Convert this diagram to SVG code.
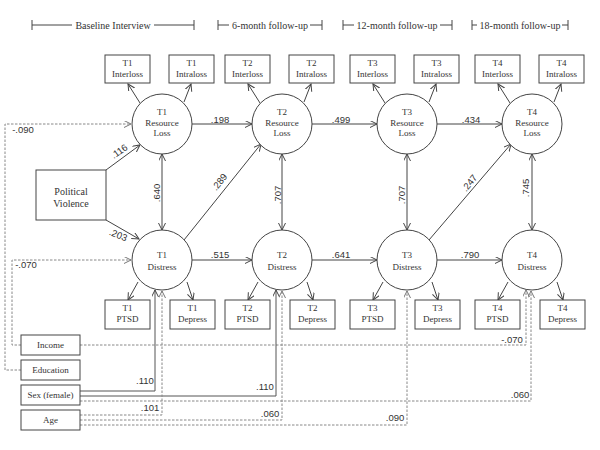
<svg xmlns="http://www.w3.org/2000/svg" width="600" height="450" viewBox="0 0 600 450">
<style>
text{font-family:"Liberation Serif","Times New Roman","DejaVu Serif",serif;fill:#333;text-anchor:middle}
.n{font-size:9px}
.h{font-size:10px}
.c{font-family:"Liberation Sans",Arial,sans-serif;font-size:9.5px}
.b{fill:#fff;stroke:#444;stroke-width:1}
.e{fill:#fff;stroke:#444;stroke-width:1}
.s{fill:none;stroke:#444;stroke-width:1}
.a{fill:none;stroke:#444;stroke-width:1;marker-end:url(#ar)}
.ab{fill:none;stroke:#444;stroke-width:1;marker-end:url(#ar);marker-start:url(#ar)}
.d{fill:none;stroke:#888;stroke-width:1;stroke-dasharray:2.5,1.5;marker-end:url(#ag)}
.ds{fill:none;stroke:#555;stroke-width:1;marker-end:url(#ar)}
</style>
<defs>
<marker id="ar" markerWidth="8" markerHeight="8" refX="7" refY="3.5" orient="auto-start-reverse" markerUnits="userSpaceOnUse"><path d="M0,0 L7,3.5 L0,7" fill="none" stroke="#444" stroke-width="1"/></marker>
<marker id="ag" markerWidth="8" markerHeight="8" refX="7" refY="3.5" orient="auto" markerUnits="userSpaceOnUse"><path d="M0,0 L7,3.5 L0,7" fill="none" stroke="#777" stroke-width="1"/></marker>
</defs>
<rect width="600" height="450" fill="#fff"/>

<g id="header">
<path class="s" d="M32,20V30M32,25H72M154,25H194M194,20V30"/>
<text class="h" x="113" y="28.5">Baseline Interview</text>
<path class="s" d="M218,20V30M218,25H229M310,25H322M322,20V30"/>
<text class="h" x="270" y="28.5">6-month follow-up</text>
<path class="s" d="M343,20V30M343,25H354M440,25H452M452,20V30"/>
<text class="h" x="397" y="28.5">12-month follow-up</text>
<path class="s" d="M472,20V30M472,25H477M562,25H568M568,20V30"/>
<text class="h" x="520" y="28.5">18-month follow-up</text>
</g>

<g id="connectors">
<path class="a" d="M106,170L140,145"/>
<path class="a" d="M106,220L139,239"/>
<path class="a" d="M192,124H252"/>
<path class="a" d="M312,124H377"/>
<path class="a" d="M437,124H502"/>
<path class="a" d="M192,260H252"/>
<path class="a" d="M312,260H377"/>
<path class="a" d="M437,260H502"/>
<path class="ab" d="M162,154V230"/>
<path class="ab" d="M282,154V230"/>
<path class="ab" d="M407,154V230"/>
<path class="ab" d="M532,154V230"/>
<path class="a" d="M184,240L261,144"/>
<path class="a" d="M429,240L511,144"/>
<path class="a" d="M140,103L128,84"/><path class="a" d="M184,102L191,84"/>
<path class="a" d="M260,103L248,84"/><path class="a" d="M304,102L311,84"/>
<path class="a" d="M385,103L373,84"/><path class="a" d="M429,102L436,84"/>
<path class="a" d="M510,103L498,84"/><path class="a" d="M554,102L561,84"/>
<path class="a" d="M138,282L128,300"/><path class="a" d="M187,282L193,300"/>
<path class="a" d="M258,282L248,300"/><path class="a" d="M307,282L313,300"/>
<path class="a" d="M383,282L373,300"/><path class="a" d="M432,282L438,300"/>
<path class="a" d="M508,282L498,300"/><path class="a" d="M557,282L563,300"/>
<path class="d" d="M21,370H5V124H131"/>
<path class="d" d="M21,345H12V260H131"/>
<path class="d" d="M80,345H526V290"/>
<path class="ds" d="M80,391H155V290"/>
<path class="ds" d="M80,396H276V290"/>
<path class="d" d="M80,401H531V291"/>
<path class="d" d="M80,415H162V291"/>
<path class="d" d="M80,420H282V291"/>
<path class="d" d="M80,425H407V291"/>
<text class="c" x="220" y="123">.198</text>
<text class="c" x="341" y="123">.499</text>
<text class="c" x="471" y="123">.434</text>
<text class="c" x="220" y="258">.515</text>
<text class="c" x="341" y="258">.641</text>
<text class="c" x="470" y="258">.790</text>
<text class="c" transform="translate(160,193) rotate(-90)">.640</text>
<text class="c" transform="translate(281,195) rotate(-90)">.707</text>
<text class="c" transform="translate(405,195) rotate(-90)">.707</text>
<text class="c" transform="translate(529,188) rotate(-90)">.745</text>
<text class="c" transform="translate(222,184) rotate(-52)">.289</text>
<text class="c" transform="translate(472,185) rotate(-52)">.247</text>
<text class="c" transform="translate(121,154) rotate(-35)">.116</text>
<text class="c" transform="translate(117,238) rotate(22)">.203</text>
<text class="c" x="23" y="133">-.090</text>
<text class="c" x="26" y="268">-.070</text>
<text class="c" x="512" y="343">-.070</text>
<text class="c" x="145" y="384">.110</text>
<text class="c" x="265" y="390">.110</text>
<text class="c" x="150" y="411">.101</text>
<text class="c" x="270" y="417">.060</text>
<text class="c" x="520" y="398">.060</text>
<text class="c" x="395" y="421">.090</text>
</g>

<g id="pv"><rect class="b" x="36" y="170" width="70" height="50"/><text class="h" x="71" y="195">Political</text><text class="h" x="71" y="207">Violence</text></g>

<g id="rl1"><circle class="e" cx="162" cy="124" r="30"/><text class="n" x="162" y="115">T1</text><text class="n" x="162" y="126">Resource</text><text class="n" x="162" y="136">Loss</text></g>
<g id="rl2"><circle class="e" cx="282" cy="124" r="30"/><text class="n" x="282" y="115">T2</text><text class="n" x="282" y="126">Resource</text><text class="n" x="282" y="136">Loss</text></g>
<g id="rl3"><circle class="e" cx="407" cy="124" r="30"/><text class="n" x="407" y="115">T3</text><text class="n" x="407" y="126">Resource</text><text class="n" x="407" y="136">Loss</text></g>
<g id="rl4"><circle class="e" cx="532" cy="124" r="30"/><text class="n" x="532" y="115">T4</text><text class="n" x="532" y="126">Resource</text><text class="n" x="532" y="136">Loss</text></g>

<g id="ds1"><circle class="e" cx="162" cy="260" r="30"/><text class="n" x="162" y="258">T1</text><text class="n" x="162" y="270">Distress</text></g>
<g id="ds2"><circle class="e" cx="282" cy="260" r="30"/><text class="n" x="282" y="258">T2</text><text class="n" x="282" y="270">Distress</text></g>
<g id="ds3"><circle class="e" cx="407" cy="260" r="30"/><text class="n" x="407" y="258">T3</text><text class="n" x="407" y="270">Distress</text></g>
<g id="ds4"><circle class="e" cx="532" cy="260" r="30"/><text class="n" x="532" y="258">T4</text><text class="n" x="532" y="270">Distress</text></g>

<g id="t1inter"><rect class="b" x="105" y="55" width="45" height="28"/><text class="n" x="127.5" y="66">T1</text><text class="n" x="127.5" y="77">Interloss</text></g>
<g id="t1intra"><rect class="b" x="169" y="55" width="45" height="28"/><text class="n" x="191.5" y="66">T1</text><text class="n" x="191.5" y="77">Intraloss</text></g>
<g id="t2inter"><rect class="b" x="225" y="55" width="45" height="28"/><text class="n" x="247.5" y="66">T2</text><text class="n" x="247.5" y="77">Interloss</text></g>
<g id="t2intra"><rect class="b" x="289" y="55" width="45" height="28"/><text class="n" x="311.5" y="66">T2</text><text class="n" x="311.5" y="77">Intraloss</text></g>
<g id="t3inter"><rect class="b" x="350" y="55" width="45" height="28"/><text class="n" x="372.5" y="66">T3</text><text class="n" x="372.5" y="77">Interloss</text></g>
<g id="t3intra"><rect class="b" x="414" y="55" width="45" height="28"/><text class="n" x="436.5" y="66">T3</text><text class="n" x="436.5" y="77">Intraloss</text></g>
<g id="t4inter"><rect class="b" x="475" y="55" width="45" height="28"/><text class="n" x="497.5" y="66">T4</text><text class="n" x="497.5" y="77">Interloss</text></g>
<g id="t4intra"><rect class="b" x="539" y="55" width="45" height="28"/><text class="n" x="561.5" y="66">T4</text><text class="n" x="561.5" y="77">Intraloss</text></g>

<g id="t1ptsd"><rect class="b" x="105" y="300" width="45" height="29"/><text class="n" x="127.5" y="311">T1</text><text class="n" x="127.5" y="322">PTSD</text></g>
<g id="t1dep"><rect class="b" x="170" y="300" width="45" height="29"/><text class="n" x="192.5" y="311">T1</text><text class="n" x="192.5" y="322">Depress</text></g>
<g id="t2ptsd"><rect class="b" x="225" y="300" width="45" height="29"/><text class="n" x="247.5" y="311">T2</text><text class="n" x="247.5" y="322">PTSD</text></g>
<g id="t2dep"><rect class="b" x="290" y="300" width="45" height="29"/><text class="n" x="312.5" y="311">T2</text><text class="n" x="312.5" y="322">Depress</text></g>
<g id="t3ptsd"><rect class="b" x="350" y="300" width="45" height="29"/><text class="n" x="372.5" y="311">T3</text><text class="n" x="372.5" y="322">PTSD</text></g>
<g id="t3dep"><rect class="b" x="415" y="300" width="45" height="29"/><text class="n" x="437.5" y="311">T3</text><text class="n" x="437.5" y="322">Depress</text></g>
<g id="t4ptsd"><rect class="b" x="475" y="300" width="45" height="29"/><text class="n" x="497.5" y="311">T4</text><text class="n" x="497.5" y="322">PTSD</text></g>
<g id="t4dep"><rect class="b" x="540" y="300" width="45" height="29"/><text class="n" x="562.5" y="311">T4</text><text class="n" x="562.5" y="322">Depress</text></g>

<g id="income"><rect class="b" x="21" y="335" width="59" height="20"/><text class="n" x="50.5" y="348">Income</text></g>
<g id="education"><rect class="b" x="21" y="360" width="59" height="20"/><text class="n" x="50.5" y="373">Education</text></g>
<g id="sex"><rect class="b" x="21" y="385" width="59" height="20"/><text class="n" x="50.5" y="398">Sex (female)</text></g>
<g id="age"><rect class="b" x="21" y="410" width="59" height="20"/><text class="n" x="50.5" y="423">Age</text></g>
</svg>
